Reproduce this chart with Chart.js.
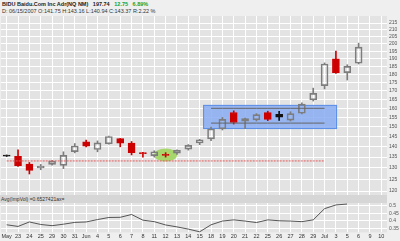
<!DOCTYPE html>
<html><head><meta charset="utf-8">
<script src="https://cdn.jsdelivr.net/npm/chart.js@4.4.0/dist/chart.umd.min.js"></script>
<style>
html,body{margin:0;padding:0;background:#efefef;width:400px;height:241px;overflow:hidden;font-family:"Liberation Sans",Arial,sans-serif;}
.hd{position:absolute;left:2px;font-size:5.5px;line-height:6px;color:#222;white-space:pre;font-weight:bold}
#h1{top:1px}
#h2{top:8px;font-weight:normal;color:#333}
.g{color:#1aa01a}
#band{position:absolute;left:0;top:195px;width:387px;height:8px;background:#d6d6d6;font-size:5px;line-height:8px;color:#333;white-space:pre}
#main{position:absolute;left:0;top:15px}
#ind{position:absolute;left:0;top:203px}
</style></head>
<body>
<div id="h1" class="hd">BIDU Baidu.Com Inc Adr(NQ NM)   197.74   <span class="g">12.75   6.89%</span></div>
<div id="h2" class="hd">D: 06/15/2007 O:141.75 H:143.16 L:140.94 C:143.37 R:2.22 %</div>
<canvas id="main" width="400" height="180"></canvas>
<div id="band"> Avg(ImpVol) =0.6527421ax=</div>
<canvas id="ind" width="400" height="38"></canvas>
<script>
const categories = ["May","23","24","25","29","30","31","Jun","4","5","6","7","8","11","12","13","14","15","18","19","20","21","22","25","26","27","28","29","Jul","3","5","6","9","10"];
const opens  = [135.9,135.3,131.8,130.0,131.6,131.2,137.6,142.3,138.6,141.4,143.9,141.7,137.1,135.7,136.3,136.8,138.8,141.75,143.8,148.9,157.6,152.9,153.6,157.5,156.6,153.5,157.2,164.7,173.0,189.8,181.0,187.0,null,null];
const highs  = [136.0,138.5,132.5,131.6,133.5,137.5,141.5,143.2,142.8,145.2,144.0,142.5,137.3,138.0,137.1,138.5,141.0,143.6,149.8,154.9,158.5,154.6,157.0,158.3,158.3,158.0,163.0,171.5,187.2,195.0,186.0,200.5,null,null];
const lows   = [135.3,130.7,127.3,129.2,131.3,129.7,137.0,139.9,137.5,141.2,139.9,136.0,135.0,135.0,135.0,136.3,138.3,140.94,142.9,148.3,151.4,149.0,153.0,153.2,153.3,153.0,156.8,164.0,171.0,180.5,176.4,186.5,null,null];
const closes = [135.4,131.0,128.9,130.9,133.1,135.8,140.3,140.2,141.8,145.0,141.7,137.1,136.6,137.5,135.8,138.2,140.6,143.37,148.8,153.9,152.2,154.3,156.4,153.9,155.0,157.0,162.2,168.4,186.5,181.0,184.99,197.74,null,null];
const impVol = [0.373,0.362,0.392,0.375,0.367,0.377,0.389,0.392,0.408,0.422,0.423,0.442,0.404,0.394,0.372,0.359,0.344,0.326,0.373,0.398,0.406,0.398,0.388,0.406,0.400,0.398,0.394,0.406,0.481,0.506,0.512];
const priceTicks = [120,125,130,135,140,145,150,155,160,165,170,175,180,185,190,195,200,205,210,215];
const volTicks = [0.35,0.4,0.45,0.5];
const supportLevel = 133.2, supportFrom = 0, supportTo = 28;
const channelUpper = 159.9, channelLower = 151.9, channelFrom = 18, channelTo = 28;
const boxZone = {from:17.3, to:29.1, low:148.8, high:161.8};
const markIndex = 14, markValue = 136.0;

function candleColor(i){
  const o=opens[i], c=closes[i];
  if (o==null) return 'rgba(0,0,0,0)';
  if (c>=o) return '#7d7d7d';
  const prev = i>0 ? closes[i-1] : null;
  if (prev==null || c>=prev) return '#111111';
  return '#cc0000';
}
function candleFill(i){
  const o=opens[i], c=closes[i];
  if (o==null || c>=o) return 'rgba(0,0,0,0)';
  return candleColor(i);
}
const bodies = categories.map((_,i)=> opens[i]==null?null:[opens[i],closes[i]]);
const wickHi = categories.map((_,i)=> opens[i]==null?null:[Math.max(opens[i],closes[i]),highs[i]]);
const wickLo = categories.map((_,i)=> opens[i]==null?null:[lows[i],Math.min(opens[i],closes[i])]);
const supportData = categories.map((_,i)=> (i>=supportFrom&&i<=supportTo)?supportLevel:null);
const upperData = categories.map((_,i)=> (i>=channelFrom&&i<=channelTo)?channelUpper:null);
const lowerData = categories.map((_,i)=> (i>=channelFrom&&i<=channelTo)?channelLower:null);
const volData = categories.map((_,i)=> i<impVol.length?impVol[i]:null);

const bgPlugin = {id:'bg', beforeDraw(c){const {ctx, chartArea:a}=c; ctx.save(); ctx.fillStyle='#e3e3e3'; ctx.fillRect(a.left,a.top,a.width,a.height); ctx.restore();}};
function idxPx(xs, v){const f=Math.floor(v); const p0=xs.getPixelForValue(f), p1=xs.getPixelForValue(f+1); return p0+(v-f)*(p1-p0);}
const notePlugin = {id:'notes', beforeDatasetsDraw(c){
  const ctx=c.ctx, xs=c.scales.x, ys=c.scales.y;
  ctx.save();
  const x0=idxPx(xs,boxZone.from), x1=idxPx(xs,boxZone.to);
  const y0=ys.getPixelForValue(boxZone.high), y1=ys.getPixelForValue(boxZone.low);
  ctx.fillStyle='rgba(135,172,242,0.85)'; ctx.fillRect(x0,y0,x1-x0,y1-y0);
  ctx.strokeStyle='#5d8fe6'; ctx.lineWidth=1; ctx.strokeRect(x0+0.5,y0+0.5,x1-x0-1,y1-y0-1);
  const cx=xs.getPixelForValue(markIndex), cy=ys.getPixelForValue(markValue);
  ctx.beginPath(); ctx.ellipse(cx,cy,11.5,6.5,0,0,Math.PI*2); ctx.fillStyle='#a6d66c'; ctx.fill();
  ctx.restore();
}};
const tickFont = {size:5, family:'Liberation Sans'};
const fitRight = s => { s.width = 13; s.paddingTop = 0; s.paddingBottom = 0; };

new Chart(document.getElementById('main'), {
  type:'bar',
  data:{labels:categories, datasets:[
    {type:'line', data:supportData, borderColor:'#e05a5a', borderWidth:1, borderDash:[2,1], pointRadius:0, order:0},
    {type:'line', data:upperData, borderColor:'#666', borderWidth:1, pointRadius:0, order:0},
    {type:'line', data:lowerData, borderColor:'#666', borderWidth:1, pointRadius:0, order:0},
    {data:bodies, grouped:false, barThickness:7, backgroundColor:c=>candleFill(c.dataIndex), borderColor:c=>candleColor(c.dataIndex), borderWidth:1, borderSkipped:false, order:1},
    {data:wickHi, grouped:false, barThickness:1, backgroundColor:c=>candleColor(c.dataIndex), borderWidth:0, order:2},
    {data:wickLo, grouped:false, barThickness:1, backgroundColor:c=>candleColor(c.dataIndex), borderWidth:0, order:2}
  ]},
  options:{responsive:false, animation:false, devicePixelRatio:1,
    layout:{padding:{left:1,right:0,top:1,bottom:0}},
    plugins:{legend:{display:false}, tooltip:{enabled:false}},
    scales:{
      x:{offset:true, grid:{offset:false, color:'#ffffff', drawTicks:false}, ticks:{display:false}, border:{display:false}},
      y:{type:'logarithmic', position:'right', min:118.35, max:220.3,
        afterBuildTicks:s=>{s.ticks=priceTicks.map(v=>({value:v}));},
        afterFit:fitRight,
        ticks:{font:tickFont, color:'#555', padding:2, autoSkip:false, callback:v=>String(v)},
        grid:{color:'#ffffff', drawTicks:false}, border:{display:false}}
    }
  },
  plugins:[bgPlugin, notePlugin]
});

new Chart(document.getElementById('ind'), {
  type:'line',
  data:{labels:categories, datasets:[
    {data:volData, borderColor:'#555', borderWidth:1, pointRadius:0, tension:0}
  ]},
  options:{responsive:false, animation:false, devicePixelRatio:1,
    layout:{padding:{left:1,right:0,top:0,bottom:0}},
    plugins:{legend:{display:false}, tooltip:{enabled:false}},
    scales:{
      x:{offset:true, grid:{offset:false, color:'#ffffff', drawTicks:false}, border:{display:false},
        ticks:{font:{size:5.5, family:'Liberation Sans'}, color:'#333', padding:1, autoSkip:false, maxRotation:0}},
      y:{position:'right', min:0.322, max:0.519,
        afterBuildTicks:s=>{s.ticks=volTicks.map(v=>({value:v}));},
        afterFit:fitRight,
        ticks:{font:tickFont, color:'#555', padding:2, autoSkip:false, callback:v=>String(v)},
        grid:{color:'#ffffff', drawTicks:false}, border:{display:false}}
    }
  },
  plugins:[bgPlugin]
});
</script>
</body></html>
